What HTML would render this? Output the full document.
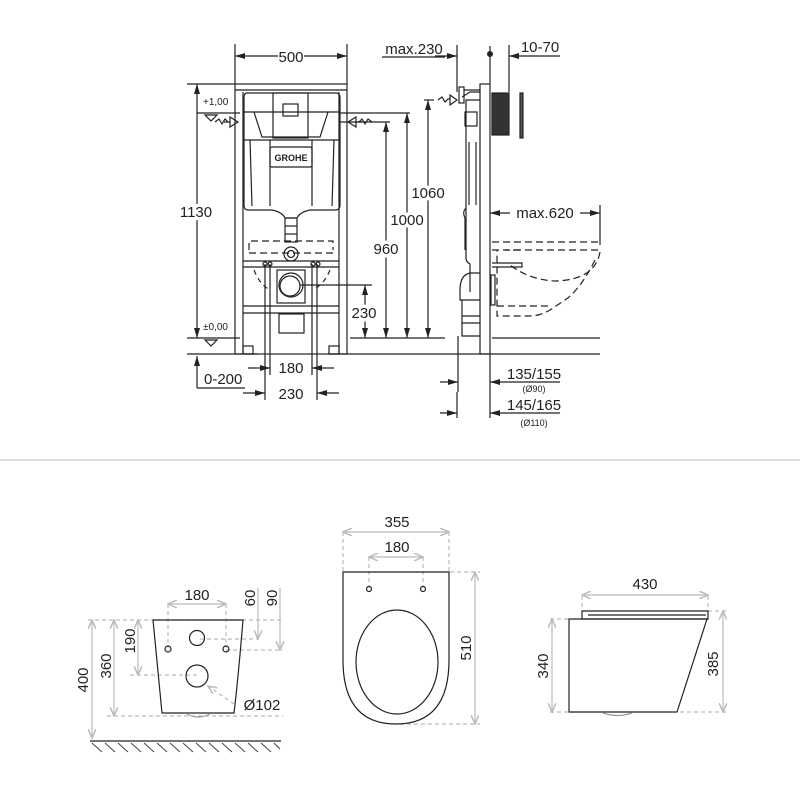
<!DOCTYPE html>
<html><head><meta charset="utf-8"><style>
html,body{margin:0;padding:0;background:#fff;}
svg{display:block}
text{font-family:"Liberation Sans",sans-serif;}
.h{paint-order:stroke;stroke:#fff;stroke-width:7px;stroke-linejoin:round;}
</style></head><body>
<svg width="800" height="800" viewBox="0 0 800 800" xmlns="http://www.w3.org/2000/svg">
<defs>
<marker id="a" markerWidth="10" markerHeight="6" refX="10" refY="3" orient="auto-start-reverse" markerUnits="userSpaceOnUse"><path d="M0,0 L10,3 L0,6 z" fill="#222"/></marker>
<marker id="g" markerWidth="10" markerHeight="8" refX="9" refY="4" orient="auto-start-reverse" markerUnits="userSpaceOnUse"><path d="M0,0 L9,4 L0,8" fill="none" stroke="#bbb" stroke-width="1.5"/></marker>
</defs>

<!-- ================= TOP FRONT VIEW ================= -->
<g stroke="#222" stroke-width="1.2" fill="none">
  <line x1="235" y1="44" x2="235" y2="84"/><line x1="347" y1="44" x2="347" y2="84"/>
  <line x1="235" y1="56" x2="278" y2="56" marker-start="url(#a)"/>
  <line x1="304" y1="56" x2="347" y2="56" marker-end="url(#a)"/>
  <rect x="235" y="84" width="112" height="270"/>
  <line x1="243" y1="92" x2="243" y2="354"/><line x1="339" y1="92" x2="339" y2="354"/>
  <line x1="235" y1="90" x2="347" y2="90"/>
  <rect x="243" y="346" width="10" height="8"/><rect x="329" y="346" width="10" height="8"/>
  <path d="M247,93 H336 Q340,93 340,98 V205 Q340,210 335,210 H310 Q300,212 297,218 H285 Q282,212 272,210 H248 Q244,210 244,205 V98 Q244,93 247,93 z"/>
  <line x1="244" y1="112" x2="340" y2="112"/>
  <line x1="244" y1="140" x2="340" y2="140"/>
  <path d="M254,112 L262,137 H320 L328,112"/>
  <rect x="273" y="93" width="35" height="45"/>
  <rect x="283" y="104" width="15" height="12"/>
  <line x1="270" y1="140" x2="270" y2="206"/><line x1="312" y1="140" x2="312" y2="206"/>
  <line x1="250" y1="140" x2="252" y2="206"/><line x1="334" y1="140" x2="332" y2="206"/>
  <rect x="270" y="147" width="42" height="20" rx="2"/>
  <rect x="285" y="218" width="12" height="24"/>
  <line x1="285" y1="226" x2="297" y2="226"/><line x1="285" y1="234" x2="297" y2="234"/>
  <circle cx="291" cy="254" r="7"/><circle cx="291" cy="254" r="3.5"/>
  <path d="M249,250 V241 H333 V250 M249,253 H333" stroke-dasharray="7,4"/>
  <line x1="243" y1="261" x2="339" y2="261"/><line x1="243" y1="267" x2="339" y2="267"/>
  <line x1="243" y1="306" x2="339" y2="306"/><line x1="243" y1="313" x2="339" y2="313"/>
  <rect x="277" y="270" width="28" height="33"/>
  <circle cx="291" cy="285" r="12"/><circle cx="290" cy="286" r="10"/>
  <rect x="279" y="314" width="25" height="19"/>
  <circle cx="265" cy="264" r="2"/><circle cx="270" cy="264" r="2"/><circle cx="313" cy="264" r="2"/><circle cx="318" cy="264" r="2"/>
  <path d="M254,270 Q260,285 270,290" stroke-dasharray="5,4"/><path d="M330,270 Q324,285 312,290" stroke-dasharray="5,4"/>
  <line x1="265" y1="264" x2="265" y2="400"/><line x1="270" y1="264" x2="270" y2="375"/>
  <line x1="312" y1="264" x2="312" y2="375"/><line x1="317" y1="264" x2="317" y2="400"/>
  <line x1="248" y1="368" x2="270" y2="368" marker-end="url(#a)"/><line x1="312" y1="368" x2="334" y2="368" marker-start="url(#a)"/>
  <line x1="243" y1="393" x2="265" y2="393" marker-end="url(#a)"/><line x1="317" y1="393" x2="339" y2="393" marker-start="url(#a)"/>
  <line x1="187" y1="354" x2="258" y2="354"/><line x1="328" y1="354" x2="600" y2="354"/>
  <line x1="197" y1="388" x2="197" y2="356" marker-end="url(#a)"/>
  <line x1="197" y1="388" x2="245" y2="388"/>
  <line x1="197" y1="84" x2="197" y2="338" marker-start="url(#a)" marker-end="url(#a)"/>
  <line x1="187" y1="84" x2="235" y2="84"/>
  <line x1="187" y1="338" x2="240" y2="338"/>
  <line x1="197" y1="113" x2="240" y2="113"/>
  <path d="M205,115 L217,115 L211,121 z"/><path d="M205,340 L217,340 L211,346 z"/>
  <path d="M215,122 l4,-3 l3,5 l3,-5 l3,3 M224,122 H230 M230,117 L238,122 L230,127 z"/>
  <path d="M372,122 l-4,-3 l-3,5 l-3,-5 l-3,3 M362,122 H356 M356,117 L348,122 L356,127 z"/>
  <line x1="340" y1="122" x2="390" y2="122"/>
  <line x1="340" y1="113" x2="410" y2="113"/>
  <line x1="300" y1="285" x2="372" y2="285"/>
  <line x1="365" y1="285" x2="365" y2="338" marker-start="url(#a)" marker-end="url(#a)"/>
  <line x1="350" y1="338" x2="445" y2="338"/>
  <line x1="386" y1="122" x2="386" y2="338" marker-start="url(#a)" marker-end="url(#a)"/>
  <line x1="407" y1="113" x2="407" y2="338" marker-start="url(#a)" marker-end="url(#a)"/>
  <line x1="428" y1="100" x2="428" y2="338" marker-start="url(#a)" marker-end="url(#a)"/>
  <line x1="424" y1="100" x2="434" y2="100"/>
</g>
<g fill="#222" font-size="15">
  <text x="291" y="62" text-anchor="middle">500</text>
  <text class="h" x="196" y="217" text-anchor="middle">1130</text>
  <text class="h" x="386" y="254" text-anchor="middle">960</text>
  <text class="h" x="407" y="225" text-anchor="middle">1000</text>
  <text class="h" x="428" y="198" text-anchor="middle">1060</text>
  <text class="h" x="364" y="318" text-anchor="middle">230</text>
  <text x="291" y="373" text-anchor="middle">180</text>
  <text x="291" y="399" text-anchor="middle">230</text>
  <text x="204" y="384">0-200</text>
  <text x="203" y="105" font-size="10">+1,00</text>
  <text x="203" y="330" font-size="10">±0,00</text>
  <text x="291" y="161" text-anchor="middle" font-size="9" font-weight="bold">GROHE</text>
</g>

<!-- ================= TOP SIDE VIEW ================= -->
<g stroke="#222" stroke-width="1.2" fill="none">
  <line x1="382" y1="57" x2="445" y2="57"/>
  <line x1="457" y1="45" x2="457" y2="92"/>
  <line x1="435" y1="56" x2="457" y2="56" marker-end="url(#a)"/>
  <line x1="490" y1="46" x2="490" y2="84"/>
  <line x1="509" y1="45" x2="509" y2="92"/>
  <line x1="509" y1="56" x2="560" y2="56" marker-start="url(#a)"/>
  <rect x="480" y="84" width="10" height="270"/>
  <rect x="459" y="87" width="5" height="16"/>
  <path d="M464,90 H480 M462,97 L470,92 H480"/>
  <path d="M438,100 l4,-3 l3,5 l3,-3 H450 M450,95 L457,100 L450,105 z"/>
  <path d="M480,100 H466 V258 Q466,262 470,264 V292 M466,208 Q462,212 465,218 V250"/>
  <rect x="465" y="112" width="12" height="14"/>
  <line x1="469" y1="142" x2="469" y2="205"/><line x1="476" y1="142" x2="476" y2="205"/>
  <rect x="492" y="93" width="17" height="42" fill="#333"/>
  <rect x="520" y="93" width="3" height="45" fill="#555"/>
  <path d="M480,273 H470 Q460,275 460,290 V300 H480"/>
  <path d="M462,300 V336 H480 M462,316 H480 M462,323 H480"/>
  <rect x="491" y="275" width="4" height="30"/>
  <line x1="490" y1="213" x2="510" y2="213" marker-start="url(#a)"/>
  <line x1="580" y1="213" x2="600" y2="213" marker-end="url(#a)"/>
  <line x1="600" y1="205" x2="600" y2="245"/>
  <g stroke-dasharray="7,4">
    <line x1="492" y1="242" x2="600" y2="242"/>
    <line x1="492" y1="250" x2="600" y2="250"/>
    <path d="M600,252 Q595,280 555,281 Q530,280 510,265"/>
    <path d="M595,260 Q580,290 565,300 L550,310 Q540,316 530,316 H497 V250"/>
    <path d="M497,306 H550"/>
    <path d="M520,250 H505"/>
  </g>
  <path d="M492,263 H522 L522,267 H492"/>
  <line x1="492" y1="338" x2="600" y2="338"/>
  <line x1="490" y1="354" x2="490" y2="418"/>
  <line x1="458" y1="336" x2="458" y2="392"/>
  <line x1="457" y1="392" x2="457" y2="418"/>
  <line x1="440" y1="382" x2="458" y2="382" marker-end="url(#a)"/>
  <line x1="490" y1="382" x2="560" y2="382" marker-start="url(#a)"/>
  <line x1="440" y1="413" x2="457" y2="413" marker-end="url(#a)"/>
  <line x1="490" y1="413" x2="560" y2="413" marker-start="url(#a)"/>
</g>
<circle cx="490" cy="54" r="3" fill="#222"/>
<g fill="#222" font-size="15">
  <text x="414" y="54" text-anchor="middle">max.230</text>
  <text x="540" y="52" text-anchor="middle">10-70</text>
  <text x="545" y="218" text-anchor="middle">max.620</text>
  <text x="534" y="379" text-anchor="middle">135/155</text>
  <text x="534" y="410" text-anchor="middle">145/165</text>
  <text x="534" y="392" text-anchor="middle" font-size="9">(Ø90)</text>
  <text x="534" y="426" text-anchor="middle" font-size="9">(Ø110)</text>
</g>

<line x1="0" y1="460" x2="800" y2="460" stroke="#bbb" stroke-width="1"/>

<!-- ================= BOTTOM LEFT ================= -->
<g stroke="#bbb" stroke-width="1.2" fill="none">
  <g stroke-dasharray="4,3">
    <line x1="88" y1="620" x2="283" y2="620"/>
    <line x1="107" y1="716" x2="283" y2="716"/>
    <line x1="130" y1="675" x2="200" y2="675"/>
    <line x1="200" y1="639" x2="258" y2="639"/>
    <line x1="226" y1="650" x2="283" y2="650"/>
    <line x1="168" y1="604" x2="168" y2="648"/>
    <line x1="226" y1="604" x2="226" y2="648"/>
    <line x1="234" y1="704" x2="208" y2="686" marker-end="url(#g)"/>
  </g>
  <line x1="168" y1="604" x2="226" y2="604" marker-start="url(#g)" marker-end="url(#g)"/>
  <line x1="258" y1="588" x2="258" y2="639" marker-end="url(#g)"/>
  <line x1="280" y1="588" x2="280" y2="650" marker-end="url(#g)"/>
  <line x1="92" y1="620" x2="92" y2="738" marker-start="url(#g)" marker-end="url(#g)"/>
  <line x1="114" y1="620" x2="114" y2="716" marker-start="url(#g)" marker-end="url(#g)"/>
  <line x1="138" y1="620" x2="138" y2="675" marker-start="url(#g)" marker-end="url(#g)"/>
</g>
<g stroke="#222" stroke-width="1.2" fill="none">
  <path d="M153,620 H243 Q238,680 234,713 H162 Z"/>
  <circle cx="197" cy="638" r="7.5"/>
  <circle cx="197" cy="676" r="11"/>
  <circle cx="168" cy="649" r="3"/><circle cx="226" cy="649" r="3"/>
  <line x1="90" y1="741" x2="281" y2="741"/>
</g>
<path d="M187,714 Q198,720 210,714" stroke="#999" fill="none" stroke-width="1.2"/>
<g stroke="#444" stroke-width="1">
  <path d="M92,743 l10,9 M105,743 l10,9 M118,743 l10,9 M131,743 l10,9 M144,743 l10,9 M157,743 l10,9 M170,743 l10,9 M183,743 l10,9 M196,743 l10,9 M209,743 l10,9 M222,743 l10,9 M235,743 l10,9 M248,743 l10,9 M261,743 l10,9 M274,743 l6,6"/>
</g>
<g fill="#222" font-size="15">
  <text x="197" y="600" text-anchor="middle">180</text>
  <text x="262" y="710" text-anchor="middle">Ø102</text>
  <text transform="translate(255,598) rotate(-90)" text-anchor="middle">60</text>
  <text transform="translate(277,598) rotate(-90)" text-anchor="middle">90</text>
  <text transform="translate(88,680) rotate(-90)" text-anchor="middle">400</text>
  <text transform="translate(111,666) rotate(-90)" text-anchor="middle">360</text>
  <text transform="translate(135,641) rotate(-90)" text-anchor="middle">190</text>
</g>

<!-- ================= BOTTOM MIDDLE ================= -->
<g stroke="#bbb" stroke-width="1.2" fill="none">
  <g stroke-dasharray="4,3">
    <line x1="343" y1="532" x2="343" y2="571"/>
    <line x1="449" y1="532" x2="449" y2="571"/>
    <line x1="369" y1="557" x2="369" y2="586"/>
    <line x1="423" y1="557" x2="423" y2="586"/>
    <line x1="450" y1="572" x2="480" y2="572"/>
    <line x1="400" y1="724" x2="480" y2="724"/>
  </g>
  <line x1="343" y1="532" x2="449" y2="532" marker-start="url(#g)" marker-end="url(#g)"/>
  <line x1="369" y1="557" x2="423" y2="557" marker-start="url(#g)" marker-end="url(#g)"/>
  <line x1="475" y1="572" x2="475" y2="724" marker-start="url(#g)" marker-end="url(#g)"/>
</g>
<g stroke="#222" stroke-width="1.2" fill="none">
  <path d="M343,572 H449 V660 Q449,724 396,724 Q343,724 343,660 Z"/>
  <ellipse cx="397" cy="662" rx="41" ry="52"/>
  <circle cx="369" cy="589" r="2.5"/><circle cx="423" cy="589" r="2.5"/>
</g>
<g fill="#222" font-size="15">
  <text x="397" y="527" text-anchor="middle">355</text>
  <text x="397" y="552" text-anchor="middle">180</text>
  <text transform="translate(471,648) rotate(-90)" text-anchor="middle">510</text>
</g>

<!-- ================= BOTTOM RIGHT ================= -->
<g stroke="#bbb" stroke-width="1.2" fill="none">
  <g stroke-dasharray="4,3">
    <line x1="582" y1="596" x2="582" y2="610"/>
    <line x1="708" y1="596" x2="708" y2="610"/>
    <line x1="550" y1="619" x2="569" y2="619"/>
    <line x1="550" y1="712" x2="600" y2="712"/>
    <line x1="680" y1="712" x2="726" y2="712"/>
    <line x1="708" y1="611" x2="726" y2="611"/>
  </g>
  <line x1="582" y1="595" x2="708" y2="595" marker-start="url(#g)" marker-end="url(#g)"/>
  <line x1="552" y1="619" x2="552" y2="712" marker-start="url(#g)" marker-end="url(#g)"/>
  <line x1="723" y1="611" x2="723" y2="712" marker-start="url(#g)" marker-end="url(#g)"/>
</g>
<g stroke="#222" stroke-width="1.2" fill="none">
  <path d="M582,611 H708 V619 H582 Z"/>
  <line x1="588" y1="615" x2="706" y2="615"/>
  <path d="M569,619 H707 L677,712 H569 Z"/>
</g>
<path d="M603,713 Q617,718 632,713" stroke="#999" fill="none" stroke-width="1.2"/>
<g fill="#222" font-size="15">
  <text x="645" y="589" text-anchor="middle">430</text>
  <text transform="translate(548,666) rotate(-90)" text-anchor="middle">340</text>
  <text transform="translate(718,664) rotate(-90)" text-anchor="middle">385</text>
</g>
</svg>
</body></html>
